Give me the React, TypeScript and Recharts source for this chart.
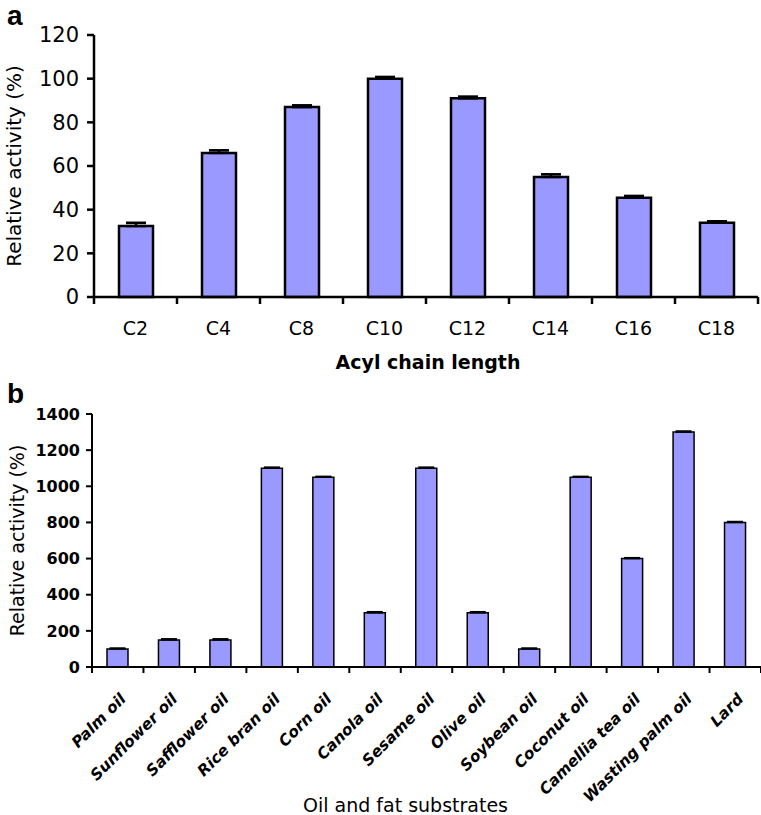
import React from 'react';
import { BarChart, Bar, XAxis, YAxis, ErrorBar, Label } from 'recharts';

// panel a - acyl chain length
const CHAIN = ['C2', 'C4', 'C8', 'C10', 'C12', 'C14', 'C16', 'C18'];
const CHAIN_ACTIVITY = [32.5, 66, 87, 100, 91, 55, 45.5, 34];
const CHAIN_ERR = [1.5, 1.2, 0.8, 0.8, 0.8, 1.2, 0.8, 0.7];
const TICKS_A = [0, 20, 40, 60, 80, 100, 120];

// panel b - oil and fat substrates
const OILS = [
  'Palm oil', 'Sunflower oil', 'Safflower oil', 'Rice bran oil', 'Corn oil', 'Canola oil',
  'Sesame oil', 'Olive oil', 'Soybean oil', 'Coconut oil', 'Camellia tea oil', 'Wasting palm oil', 'Lard',
];
const OIL_ACTIVITY = [100, 150, 150, 1100, 1050, 300, 1100, 300, 100, 1050, 600, 1300, 800];
const OIL_ERR = [5, 6, 6, 6, 5, 6, 6, 6, 5, 5, 5, 6, 5];
const TICKS_B = [0, 200, 400, 600, 800, 1000, 1200, 1400];

const SANS = "'DejaVu Sans', Verdana, sans-serif";
const BAR_FILL = '#9999ff';
const W = 761;

// only the upper whisker shows above the bars, so errors are [below, above]
const chainData = CHAIN.map((c, i) => ({ name: c, value: CHAIN_ACTIVITY[i], err: [0, CHAIN_ERR[i]] }));
const oilData = OILS.map((o, i) => ({ name: o, value: OIL_ACTIVITY[i], err: [0, OIL_ERR[i]] }));

const BAND_A = (W - 94 - 3) / CHAIN.length;
const BAND_B = (W - 92) / OILS.length;

const TickA = (props: any) => {
  const { x, y, payload, index } = props;
  return (
    <g>
      {index === 0 && <line x1={x - BAND_A / 2} x2={x - BAND_A / 2} y1={y} y2={y + 7} stroke="#000" strokeWidth={2.5} />}
      <line x1={x + BAND_A / 2} x2={x + BAND_A / 2} y1={y} y2={y + 7} stroke="#000" strokeWidth={2.5} />
      <text x={x} y={y + 38} textAnchor="middle" fontFamily={SANS} fontSize={19} fill="#000">
        {payload.value}
      </text>
    </g>
  );
};

const TickB = (props: any) => {
  const { x, y, payload, index } = props;
  const ax = x + 9;
  const ay = y + 33;
  return (
    <g>
      {index === 0 && <line x1={x - BAND_B / 2} x2={x - BAND_B / 2} y1={y} y2={y + 6} stroke="#000" strokeWidth={2} />}
      <line x1={x + BAND_B / 2} x2={x + BAND_B / 2} y1={y} y2={y + 6} stroke="#000" strokeWidth={2} />
      <text
        x={ax}
        y={ay}
        transform={`rotate(-45 ${ax} ${ay})`}
        textAnchor="end"
        fontFamily={SANS}
        fontSize={15.5}
        fontWeight="bold"
        fontStyle="italic"
        fill="#000"
      >
        {payload.value}
      </text>
    </g>
  );
};

const yTitle = (cx: number, size: number, weight: string) => (props: any) => {
  const vb = props.viewBox;
  const cy = vb.y + vb.height / 2;
  return (
    <text
      x={cx}
      y={cy}
      transform={`rotate(-90 ${cx} ${cy})`}
      textAnchor="middle"
      dominantBaseline="central"
      fontFamily={SANS}
      fontSize={size}
      fontWeight={weight}
      fill="#000"
    >
      Relative activity (%)
    </text>
  );
};

const xTitle = (text: string, ty: number, dx: number, size: number, weight: string) => (props: any) => {
  const vb = props.viewBox;
  return (
    <text
      x={vb.x + vb.width / 2 + dx}
      y={ty}
      textAnchor="middle"
      fontFamily={SANS}
      fontSize={size}
      fontWeight={weight}
      fill="#000"
    >
      {text}
    </text>
  );
};

const panelLetter: React.CSSProperties = {
  position: 'absolute',
  left: 7,
  fontFamily: "'Liberation Sans', Arial, sans-serif",
  fontWeight: 'bold',
  fontSize: 28,
  lineHeight: '28px',
};

export default function App() {
  return (
    <div style={{ position: 'absolute', left: 0, top: 0, width: W, height: 815, background: '#fff' }}>
      <div style={{ ...panelLetter, top: 2 }}>a</div>
      <div style={{ ...panelLetter, top: 380 }}>b</div>

      <div style={{ position: 'absolute', left: 0, top: 0 }}>
        <BarChart width={W} height={380} data={chainData} margin={{ top: 35, right: 3, left: 0, bottom: 0 }} barCategoryGap={0}>
          <XAxis
            dataKey="name"
            height={83}
            interval={0}
            tickSize={0}
            tickMargin={0}
            tickLine={false}
            axisLine={{ stroke: '#000', strokeWidth: 2.5 }}
            tick={TickA}
          >
            <Label content={xTitle('Acyl chain length', 369, 2, 19, 'bold')} />
          </XAxis>
          <YAxis
            width={94}
            domain={[0, 120]}
            ticks={TICKS_A}
            interval={0}
            tickSize={7}
            tickMargin={8}
            tickLine={{ stroke: '#000', strokeWidth: 2.5 }}
            axisLine={{ stroke: '#000', strokeWidth: 2.5 }}
            tick={{ fill: '#000', fontSize: 21, fontFamily: SANS }}
          >
            <Label content={yTitle(14, 20, 'normal')} />
          </YAxis>
          <Bar dataKey="value" fill={BAR_FILL} stroke="#000" strokeWidth={2.5} barSize={34} isAnimationActive={false}>
            <ErrorBar dataKey="err" width={10} stroke="#000" strokeWidth={2.5} direction="y" />
          </Bar>
        </BarChart>
      </div>

      <div style={{ position: 'absolute', left: 0, top: 380 }}>
        <BarChart width={W} height={435} data={oilData} margin={{ top: 34, right: 0, left: 0, bottom: 0 }} barCategoryGap={0}>
          <XAxis
            dataKey="name"
            height={148}
            interval={0}
            tickSize={0}
            tickMargin={0}
            tickLine={false}
            axisLine={{ stroke: '#000', strokeWidth: 2 }}
            tick={TickB}
          >
            <Label content={xTitle('Oil and fat substrates', 432, -21, 19, 'normal')} />
          </XAxis>
          <YAxis
            width={92}
            domain={[0, 1400]}
            ticks={TICKS_B}
            interval={0}
            tickSize={6}
            tickMargin={6}
            tickLine={{ stroke: '#000', strokeWidth: 2 }}
            axisLine={{ stroke: '#000', strokeWidth: 2 }}
            tick={{ fill: '#000', fontSize: 16, fontFamily: SANS, fontWeight: 'bold' }}
          >
            <Label content={yTitle(17, 19, 'normal')} />
          </YAxis>
          <Bar dataKey="value" fill={BAR_FILL} stroke="#000" strokeWidth={1.5} barSize={21} isAnimationActive={false}>
            <ErrorBar dataKey="err" width={8} stroke="#000" strokeWidth={1.5} direction="y" />
          </Bar>
        </BarChart>
      </div>
    </div>
  );
}
